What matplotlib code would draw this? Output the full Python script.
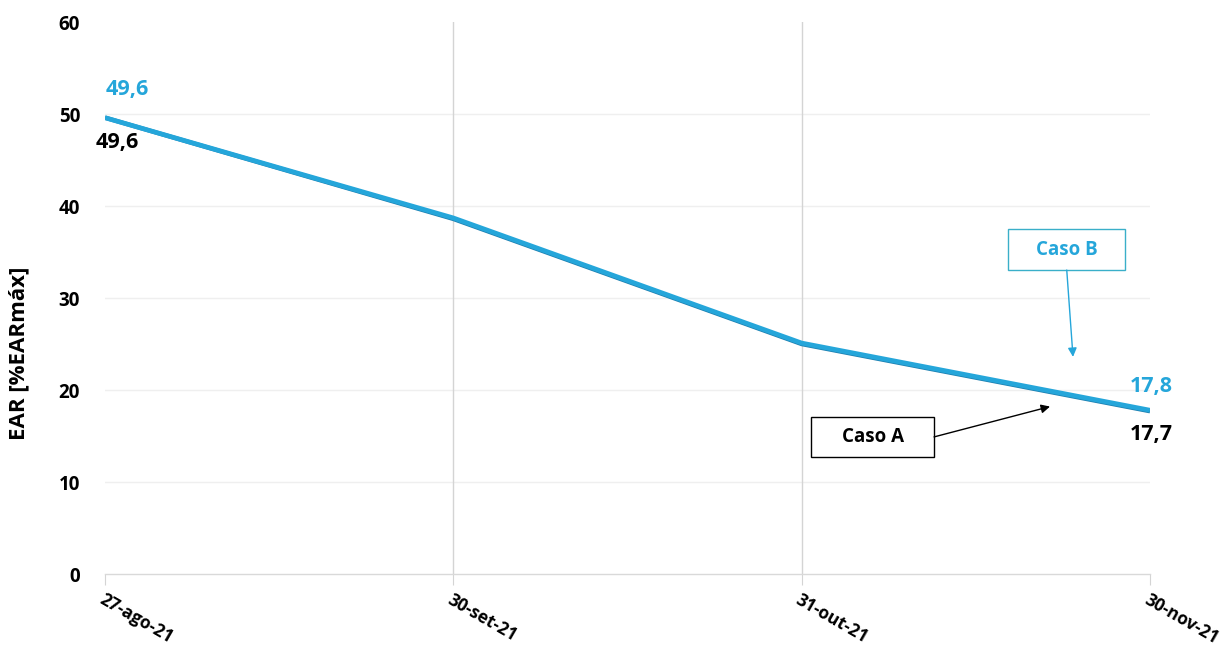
import matplotlib
matplotlib.use("Agg")
import matplotlib.pyplot as plt
from matplotlib.patches import Rectangle

# Data
dates = ["27-ago-21", "30-set-21", "31-out-21", "30-nov-21"]
caso_a = [49.6, 38.6, 25.0, 17.7]
caso_b = [49.6, 38.7, 25.1, 17.8]
y_ticks = [0, 10, 20, 30, 40, 50, 60]

BLUE = "#25A6DA"
DARK_BLUE = "#1D7FAF"
FONT = ["Open Sans", "DejaVu Sans"]

plt.rcParams["font.family"] = FONT
plt.rcParams["font.weight"] = "bold"

fig = plt.figure(figsize=(12.29, 6.48), dpi=100)
ax = fig.add_axes([105 / 1229, 74 / 648, (1150 - 105) / 1229, (574 - 22) / 648])

x = list(range(len(dates)))

# horizontal gridlines and vertical category lines
for yv in y_ticks[1:-1]:
    ax.axhline(yv, color="#EFEFEF", lw=1, zorder=0)
for xv in x[1:-1]:
    ax.axvline(xv, color="#D4D4D4", lw=1, zorder=0)

ax.plot(x, caso_a, color=DARK_BLUE, lw=3.2, solid_capstyle="butt", zorder=2)
ax.plot(x, caso_b, color=BLUE, lw=3.4, solid_capstyle="butt", zorder=3)

ax.set_xlim(0, 3)
ax.set_ylim(0, 60)
ax.set_yticks(y_ticks)
ax.set_yticklabels([str(v) for v in y_ticks], fontsize=13.5, fontweight="bold")
ax.set_xticks(x)
ax.set_xticklabels(dates, fontsize=12.5, fontweight="bold", rotation=-30,
                   ha="left", va="top", rotation_mode="anchor")
ax.tick_params(axis="y", length=0, pad=18)
ax.tick_params(axis="x", length=8, color="#D4D4D4", pad=4)

for side in ["top", "right", "left"]:
    ax.spines[side].set_visible(False)
ax.spines["bottom"].set_color("#D9D9D9")
ax.spines["bottom"].set_linewidth(1)

ax.set_ylabel("EAR [%EARmáx]", fontsize=16, fontweight="bold")
ax.yaxis.set_label_coords(-0.072, 0.40)

def fmt(v):
    return f"{v:.1f}".replace(".", ",")

# value labels at first and last points
ax.annotate(fmt(caso_b[0]), (x[0], caso_b[0]),
            xytext=(16, 20), textcoords="offset points", ha="center", va="center",
            color=BLUE, fontsize=15.5, fontweight="bold", annotation_clip=False)
ax.annotate(fmt(caso_a[0]), (x[0], caso_a[0]),
            xytext=(9, -18), textcoords="offset points", ha="center", va="center",
            color="black", fontsize=15.5, fontweight="bold", annotation_clip=False)
ax.annotate(fmt(caso_b[-1]), (x[-1], caso_b[-1]),
            xytext=(1, 17), textcoords="offset points", ha="center", va="center",
            color=BLUE, fontsize=15.5, fontweight="bold", annotation_clip=False)
ax.annotate(fmt(caso_a[-1]), (x[-1], caso_a[-1]),
            xytext=(1, -17), textcoords="offset points", ha="center", va="center",
            color="black", fontsize=15.5, fontweight="bold", annotation_clip=False)

# series callouts: boxed label with arrow pointing to the line
def callout(text, box, tail, head, color, edge):
    x0, x1, y0, y1 = box
    ax.add_patch(Rectangle((x0, y0), x1 - x0, y1 - y0, fc="white", ec=edge,
                           lw=1, zorder=5, clip_on=False))
    ax.text((x0 + x1) / 2, (y0 + y1) / 2, text, ha="center", va="center",
            color=color, fontsize=13.5, fontweight="bold", zorder=6)
    ax.annotate("", xy=head, xytext=tail,
                arrowprops=dict(arrowstyle="-|>", color=color, lw=1,
                                mutation_scale=13, shrinkA=0, shrinkB=0),
                zorder=5)

callout("Caso B", (2.592, 2.928, 33.04, 37.5), (2.761, 33.04), (2.779, 23.6),
        BLUE, "#3AAFC9")
callout("Caso A", (2.027, 2.380, 12.72, 17.07), (2.380, 14.9), (2.713, 18.2),
        "black", "black")

fig.savefig("out.png", dpi=100, facecolor="white")
